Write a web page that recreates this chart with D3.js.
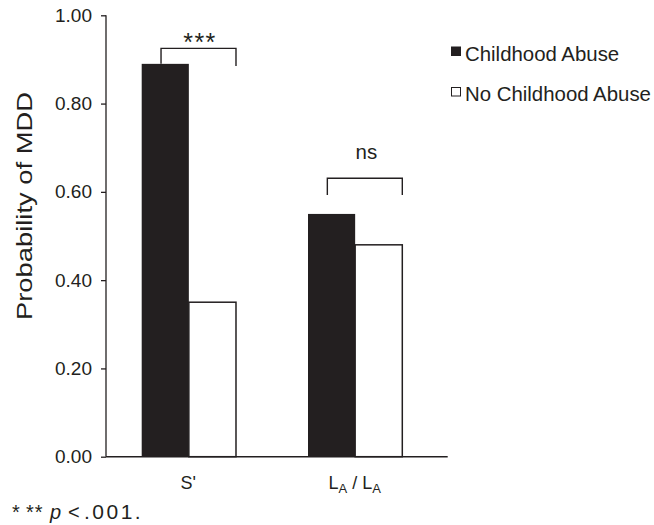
<!DOCTYPE html>
<html>
<head>
<meta charset="utf-8">
<script src="https://cdn.jsdelivr.net/npm/d3@7"></script>
<style>
  html, body { margin: 0; padding: 0; background: #fff; }
  svg { display: block; }
  text { font-family: "Liberation Sans", Arial, Helvetica, sans-serif; fill: #231f20; }
</style>
</head>
<body>
<svg id="chart" width="654" height="525"></svg>
<script>
// ---- data ----
const categories = ["S'", "L_A / L_A"];
const seriesNames = ["Childhood Abuse", "No Childhood Abuse"];
const childhoodAbuse = [0.89, 0.55];
const noChildhoodAbuse = [0.35, 0.48];
const yTicks = [0, 0.2, 0.4, 0.6, 0.8, 1.0];
const sigLabels = ["***", "ns"];
const sigBracketLevel = [0.925, 0.631];
const sigBracketLeftEnd = [0.89, 0.593];
const sigBracketRightEnd = [0.885, 0.593];
const footnote = ["*", "**", "p", "<", ".001."];

const svg = d3.select("#chart");
const dark = "#231f20";

const y = d3.scaleLinear().domain([0, 1]).range([456.7, 15.3]);
const x0 = d3.scaleBand().domain(categories).range([141.7, 402.3]).paddingInner(0.433).paddingOuter(0);
const x1 = d3.scaleBand().domain(seriesNames).range([0, x0.bandwidth()]).padding(0);
const axisX = 106;
const axisEndX = 447.7;

const colors = { "Childhood Abuse": dark, "No Childhood Abuse": "#ffffff" };
const valuesBySeries = { "Childhood Abuse": childhoodAbuse, "No Childhood Abuse": noChildhoodAbuse };

// bars
const groups = svg.append("g").selectAll("g")
  .data(categories).join("g")
  .attr("transform", d => `translate(${x0(d)},0)`);

groups.selectAll("rect")
  .data((c, i) => seriesNames.map(s => ({ s, v: valuesBySeries[s][i] })))
  .join("rect")
  .attr("x", d => x1(d.s))
  .attr("y", d => y(d.v))
  .attr("width", x1.bandwidth())
  .attr("height", d => y(0) - y(d.v))
  .attr("fill", d => colors[d.s])
  .attr("stroke", dark)
  .attr("stroke-width", d => d.s === "Childhood Abuse" ? 0 : 1.5);

// y axis
const yAxis = d3.axisLeft(y).tickValues(yTicks).tickFormat(d3.format(".2f")).tickSize(5).tickPadding(9);
const gy = svg.append("g").attr("transform", `translate(${axisX},0)`).call(yAxis);
gy.select(".domain").attr("stroke", dark).attr("stroke-width", 1.3).attr("d", `M-0,${y(1)}H0V${y(0)}`);
gy.selectAll(".tick line").attr("stroke", dark).attr("stroke-width", 1.3);
gy.selectAll(".tick text").attr("font-size", 19).attr("fill", dark)
  .attr("font-family", "Liberation Sans, Arial, sans-serif");

// x axis line
svg.append("line")
  .attr("x1", axisX).attr("x2", axisEndX)
  .attr("y1", y(0)).attr("y2", y(0))
  .attr("stroke", dark).attr("stroke-width", 1.5);

// x category labels with subscripts
categories.forEach(c => {
  const t = svg.append("text")
    .attr("x", x0(c) + x0.bandwidth() / 2 - 0.5)
    .attr("y", 489)
    .attr("text-anchor", "middle")
    .attr("font-size", 18);
  const parts = c.split(/(_[A-Za-z])/).filter(p => p.length);
  parts.forEach(p => {
    if (p.startsWith("_")) {
      t.append("tspan").text(p.slice(1)).attr("font-size", 13).attr("dy", 4);
    } else {
      const ts = t.append("tspan").text(p);
      if (t.selectAll("tspan").size() > 1) ts.attr("dy", -4);
    }
  });
});

// y axis title
svg.append("text")
  .attr("transform", `translate(32,${(92 + 320) / 2}) rotate(-90)`)
  .attr("text-anchor", "middle")
  .attr("font-size", 22)
  .attr("textLength", 228)
  .attr("lengthAdjust", "spacingAndGlyphs")
  .text("Probability of MDD");

// significance brackets
categories.forEach((c, i) => {
  const left = x0(c) + x1.bandwidth() * 0.41;
  const right = x0(c) + x0.bandwidth();
  const yl = y(sigBracketLevel[i]);
  svg.append("path")
    .attr("d", `M${left},${y(sigBracketLeftEnd[i])}V${yl}H${right}V${y(sigBracketRightEnd[i])}`)
    .attr("fill", "none")
    .attr("stroke", dark)
    .attr("stroke-width", 1.4);
  const isStars = sigLabels[i].includes("*");
  svg.append("text")
    .attr("x", (left + right) / 2 + 1.5)
    .attr("y", isStars ? yl + 3 : yl - 19)
    .attr("text-anchor", "middle")
    .attr("font-size", isStars ? 25 : 20.5)
    .attr("font-family", isStars ? "Liberation Serif, Times New Roman, serif" : "Liberation Sans, Arial, sans-serif")
    .attr("letter-spacing", isStars ? 1.5 : 0)
    .attr("fill", isStars ? "#3a3a3a" : dark)
    .text(sigLabels[i]);
});

// legend
const legend = svg.append("g");
seriesNames.forEach((s, i) => {
  const ly = 60.5 + i * 40.5;
  legend.append("rect")
    .attr("x", 451.5).attr("y", ly - 13.5)
    .attr("width", 9).attr("height", 8.5)
    .attr("fill", colors[s])
    .attr("stroke", dark).attr("stroke-width", 1);
  legend.append("text")
    .attr("x", 465).attr("y", ly)
    .attr("font-size", 20.4)
    .text(s);
});

// footnote
const fn = svg.append("text")
  .attr("y", 519)
  .attr("font-size", 20)
  .attr("font-family", "Liberation Serif, Times New Roman, serif");
const fnX = [12, 26, 50, 68, 84];
footnote.forEach((p, i) => {
  const ts = fn.append("tspan").attr("x", fnX[i]).attr("font-style", p === "p" ? "italic" : "normal").text(p);
  if (p.startsWith(".")) ts.attr("letter-spacing", 2.5).attr("font-size", 21);
  if (p.startsWith("*")) ts.attr("letter-spacing", 1);
});
</script>
</body>
</html>
